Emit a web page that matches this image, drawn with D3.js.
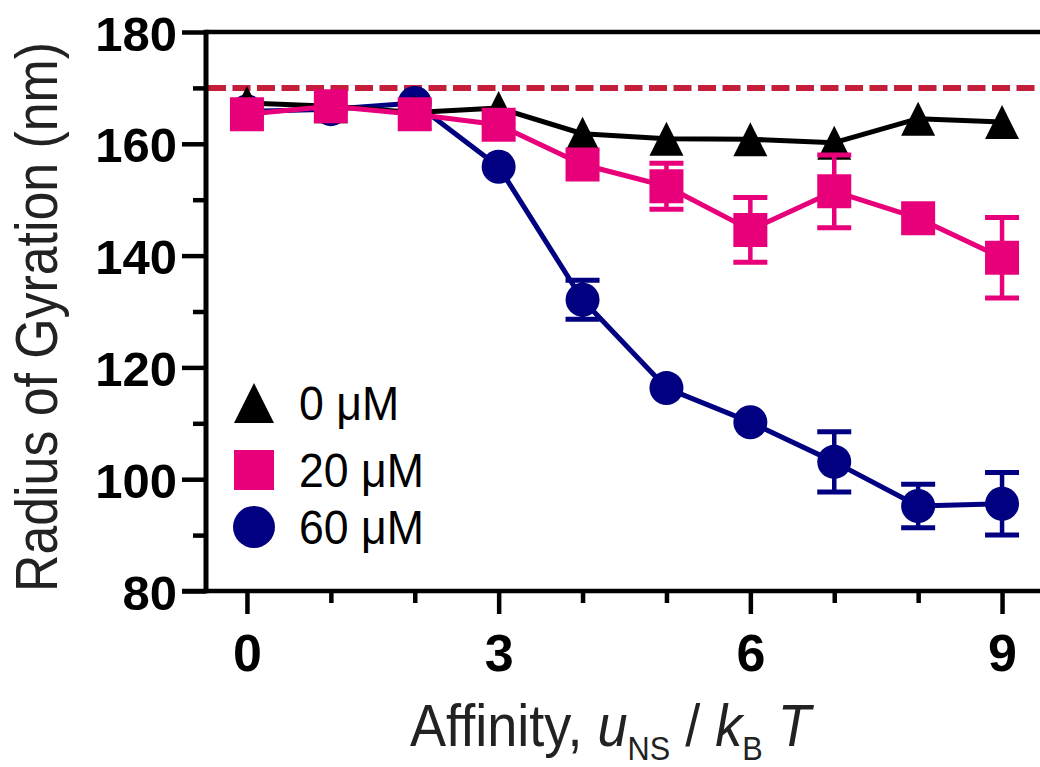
<!DOCTYPE html>
<html>
<head>
<meta charset="utf-8">
<script src="https://cdn.jsdelivr.net/npm/d3@7"></script>
<style>
  body { margin: 0; background: #fff; }
  svg { display: block; }
</style>
</head>
<body>
<svg id="chart" width="1040" height="767"></svg>
<script>
// ---- data ----
const affinity = [0, 1, 2, 3, 4, 5, 6, 7, 8, 9];

const rg0uM  = [167.3, 166.7, 165.6, 166.4, 161.8, 160.9, 160.8, 160.2, 164.5, 163.9];
const err0uM = [0, 0, 0, 0, 0, 0, 0, 0, 0, 0];

const rg20uM  = [165.3, 166.7, 165.3, 163.4, 156.3, 152.4, 144.6, 151.5, 146.7, 139.6];
const err20uM = [0, 0, 0, 0, 0, 4.1, 5.8, 6.5, 0, 7.2];

const rg60uM  = [165.8, 166.2, 167.3, 155.9, 132.1, 116.3, 110.2, 103.1, 95.2, 95.6];
const err60uM = [0, 0, 0, 0, 3.5, 0, 0, 5.4, 3.9, 5.6];

const seriesLabels = ["0 μM", "20 μM", "60 μM"];
const referenceRg = 170;

const xMajorTicks = [0, 3, 6, 9];
const xMinorTicks = [1, 2, 4, 5, 7, 8];
const yMajorTicks = [80, 100, 120, 140, 160, 180];
const yMinorTicks = [90, 110, 130, 150, 170];

const xTitle = "Affinity, ";
const yTitle = "Radius of Gyration (nm)";

// ---- layout ----
const svg = d3.select("#chart");
const FONT = "'Liberation Sans', Arial, Helvetica, sans-serif";

const x = d3.scaleLinear().domain([-0.5, 9.5]).range([205, 1044]);
const y = d3.scaleLinear().domain([80, 180]).range([591, 32]);

const COLORS = { black: "#000000", magenta: "#E8007B", navy: "#000080", ref: "#C41E3A" };

// ---- marker shapes ----
function symbolPath(kind, size) {
  const h = size / 2;
  if (kind === "triangle") return `M0,${-h}L${h},${h}L${-h},${h}Z`;
  if (kind === "square") return `M${-h},${-h}H${h}V${h}H${-h}Z`;
  return `M${h},0A${h},${h} 0 1,1 ${-h},0A${h},${h} 0 1,1 ${h},0Z`;
}

// ---- reference line ----
svg.append("line")
  .attr("x1", 208).attr("x2", x(9.5))
  .attr("y1", y(referenceRg)).attr("y2", y(referenceRg))
  .attr("stroke", COLORS.ref)
  .attr("stroke-width", 6)
  .attr("stroke-dasharray", "18 6.5");

// ---- axes ----
const yAxisMajor = d3.axisLeft(y).tickValues(yMajorTicks).tickSize(24).tickPadding(5);
const yAxisMinor = d3.axisLeft(y).tickValues(yMinorTicks).tickSize(13).tickFormat("");
const xAxisMajor = d3.axisBottom(x).tickValues(xMajorTicks).tickSize(23);
const xAxisMinor = d3.axisBottom(x).tickValues(xMinorTicks).tickSize(12).tickFormat("");

function styleAxis(g) {
  g.select(".domain").remove();
  g.selectAll(".tick line").attr("stroke", "#000").attr("stroke-width", 4.5);
}

const gy = svg.append("g").attr("transform", "translate(206,0)").call(yAxisMajor).call(styleAxis);
gy.selectAll(".tick text")
  .attr("x", -29).attr("dy", "0.37em")
  .style("font-family", FONT).style("font-weight", "bold").style("font-size", "49px")
  .attr("fill", "#000");
svg.append("g").attr("transform", "translate(206,0)").call(yAxisMinor).call(styleAxis);

const gx = svg.append("g").attr("transform", "translate(0,591)").call(xAxisMajor).call(styleAxis);
gx.selectAll(".tick text")
  .attr("y", 80).attr("dy", 0)
  .style("font-family", FONT).style("font-weight", "bold").style("font-size", "52px")
  .attr("fill", "#000");
svg.append("g").attr("transform", "translate(0,591)").call(xAxisMinor).call(styleAxis);

// frame lines
svg.append("line").attr("x1", 206).attr("x2", 206).attr("y1", y(180) - 2.3).attr("y2", y(80) + 2.3)
  .attr("stroke", "#000").attr("stroke-width", 5);
svg.append("line").attr("x1", 206).attr("x2", x(9.5)).attr("y1", y(180)).attr("y2", y(180))
  .attr("stroke", "#000").attr("stroke-width", 4.5);
svg.append("line").attr("x1", 182).attr("x2", x(9.5)).attr("y1", y(80)).attr("y2", y(80))
  .attr("stroke", "#000").attr("stroke-width", 4.5);

// ---- data series (drawn bottom to top) ----
const series = [
  { label: seriesLabels[2], values: rg60uM, errors: err60uM, color: COLORS.navy, shape: "circle" },
  { label: seriesLabels[0], values: rg0uM, errors: err0uM, color: COLORS.black, shape: "triangle" },
  { label: seriesLabels[1], values: rg20uM, errors: err20uM, color: COLORS.magenta, shape: "square" }
];

const line = d3.line().x(d => x(d.a)).y(d => y(d.v));
const MARK = 34, CAP = 34;

series.forEach(s => {
  const pts = affinity.map((a, i) => ({ a, v: s.values[i], e: s.errors[i] }));
  const g = svg.append("g");
  g.append("path").datum(pts).attr("d", line)
    .attr("fill", "none").attr("stroke", s.color).attr("stroke-width", 5)
    .attr("stroke-linejoin", "round");

  const eb = g.selectAll(".err").data(pts.filter(d => d.e > 0)).join("g").attr("class", "err");
  eb.append("line")
    .attr("x1", d => x(d.a)).attr("x2", d => x(d.a))
    .attr("y1", d => y(d.v + d.e)).attr("y2", d => y(d.v - d.e))
    .attr("stroke", s.color).attr("stroke-width", 4.5);
  [1, -1].forEach(sign => {
    eb.append("line")
      .attr("x1", d => x(d.a) - CAP / 2).attr("x2", d => x(d.a) + CAP / 2)
      .attr("y1", d => y(d.v + sign * d.e)).attr("y2", d => y(d.v + sign * d.e))
      .attr("stroke", s.color).attr("stroke-width", 5);
  });

  g.selectAll(".mark").data(pts).join("path").attr("class", "mark")
    .attr("transform", d => `translate(${x(d.a)},${y(d.v)})`)
    .attr("d", symbolPath(s.shape, MARK))
    .attr("fill", s.color);
});

// ---- legend ----
const legendRows = [
  { label: seriesLabels[0], color: COLORS.black, shape: "triangle", size: 40, cy: 403 },
  { label: seriesLabels[1], color: COLORS.magenta, shape: "square", size: 40, cy: 470 },
  { label: seriesLabels[2], color: COLORS.navy, shape: "circle", size: 42, cy: 527 }
];
legendRows.forEach(r => {
  svg.append("path")
    .attr("transform", `translate(254,${r.cy})`)
    .attr("d", symbolPath(r.shape, r.size))
    .attr("fill", r.color);
  svg.append("g").attr("transform", `translate(299,${r.cy + 17}) scale(0.93,1)`)
    .append("text")
    .style("font-family", FONT).style("font-size", "48px")
    .attr("fill", "#000")
    .text(r.label);
});

// ---- axis titles ----
const xt = svg.append("g");
const xText = xt.append("text")
  .style("font-family", FONT).style("font-size", "60px").attr("fill", "#222");
xText.append("tspan").text(xTitle);
xText.append("tspan").style("font-style", "italic").text("u");
xText.append("tspan").style("font-size", "34px").attr("dy", 14).text("NS");
xText.append("tspan").attr("dy", -14).text(" / ");
xText.append("tspan").style("font-style", "italic").text("k");
xText.append("tspan").style("font-size", "34px").attr("dy", 14).text("B");
xText.append("tspan").attr("dy", -14).text(" ");
xText.append("tspan").style("font-style", "italic").text("T");
const xw = xText.node().getComputedTextLength();
xt.attr("transform", `translate(410,746) scale(${401 / xw},1)`);

const yt = svg.append("g");
const yText = yt.append("text")
  .attr("text-anchor", "middle")
  .style("font-family", FONT).style("font-size", "59px").attr("fill", "#222")
  .text(yTitle);
const yw = yText.node().getComputedTextLength();
yt.attr("transform", `translate(57,317) rotate(-90) scale(${550 / yw},1)`);
</script>
</body>
</html>
